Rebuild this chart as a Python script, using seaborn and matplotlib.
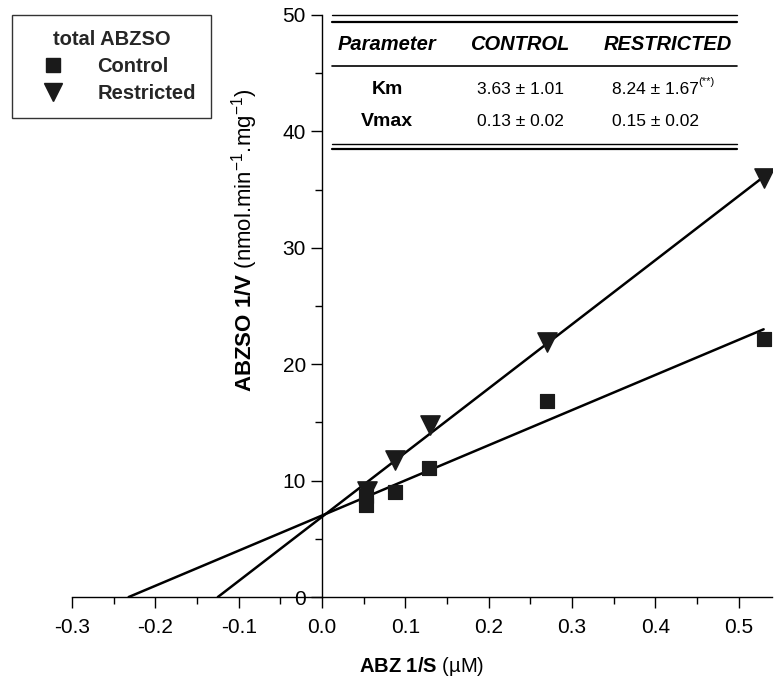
import numpy as np
import pandas as pd
import matplotlib
matplotlib.use("Agg")
import matplotlib.pyplot as plt
import seaborn as sns
from matplotlib.lines import Line2D
from matplotlib.ticker import MultipleLocator

# Data
control_x = [0.053, 0.053, 0.088, 0.128, 0.270, 0.530]
control_y = [7.9, 8.7, 9.0, 11.1, 16.8, 22.2]
restricted_x = [0.054, 0.088, 0.130, 0.270, 0.530]
restricted_y = [9.1, 11.8, 14.8, 21.9, 36.0]

# regression lines (x-intercept to last point)
control_fit_x = [-0.232, 0.530]
control_fit_y = [0.0, 23.0]
restricted_fit_x = [-0.125, 0.530]
restricted_fit_y = [0.0, 36.1]

table_header = ["Parameter", "CONTROL", "RESTRICTED"]
table_rows = [["Km", "3.63 \u00b1 1.01", "8.24 \u00b1 1.67"],
              ["Vmax", "0.13 \u00b1 0.02", "0.15 \u00b1 0.02"]]

sns.set_theme(style="white")
plt.rcParams['font.family'] = ['Liberation Sans', 'DejaVu Sans']
plt.rcParams['axes.unicode_minus'] = False
plt.rcParams['mathtext.fontset'] = 'custom'
plt.rcParams['mathtext.rm'] = 'Liberation Sans'
plt.rcParams['mathtext.bf'] = 'Liberation Sans:bold'
plt.rcParams['mathtext.it'] = 'Liberation Sans:italic'

df_c = pd.DataFrame({"x": control_x, "y": control_y})
df_r = pd.DataFrame({"x": restricted_x, "y": restricted_y})

fig = plt.figure(figsize=(7.76, 6.8), dpi=100)
ax = fig.add_axes([0.0928, 0.122, 0.902, 0.856])

sns.lineplot(x=control_fit_x, y=control_fit_y, ax=ax, color="black", lw=1.8)
sns.lineplot(x=restricted_fit_x, y=restricted_fit_y, ax=ax, color="black", lw=1.8)
sns.scatterplot(data=df_c, x="x", y="y", ax=ax, marker="s", s=110, color="#1a1a1a",
                edgecolor="#1a1a1a", zorder=3)
sns.scatterplot(data=df_r, x="x", y="y", ax=ax, marker="v", s=190, color="#1a1a1a",
                edgecolor="#1a1a1a", zorder=3)

ax.set_xlim(-0.3, 0.54)
ax.set_ylim(0, 50)
ax.spines['left'].set_position(('data', 0))
ax.spines['right'].set_visible(False)
ax.spines['top'].set_visible(False)
for s in ['left', 'bottom']:
    ax.spines[s].set_color('black')
    ax.spines[s].set_linewidth(1.0)

ax.set_xticks(np.arange(-0.3, 0.51, 0.1))
ax.set_xticklabels(["-0.3", "-0.2", "-0.1", "0.0", "0.1", "0.2", "0.3", "0.4", "0.5"])
ax.xaxis.set_minor_locator(MultipleLocator(0.05))
ax.yaxis.set_major_locator(MultipleLocator(10))
ax.yaxis.set_minor_locator(MultipleLocator(5))
ax.tick_params(axis='both', which='major', direction='out', length=8, width=1,
               color='black', labelsize=15, labelcolor='black', bottom=True, left=True)
ax.tick_params(axis='both', which='minor', direction='out', length=5, width=1,
               color='black', bottom=True, left=True)
ax.tick_params(axis='x', pad=7)

ax.set_xlabel("$\\bf{ABZ\\ 1/S}$ (\u00b5M)", fontsize=14.5, color='black')
ax.set_ylabel(r"$\bf{ABZSO\ 1/V}$ (nmol.min$^{-1}$.mg$^{-1}$)", fontsize=16,
              color='black')
ax.yaxis.set_label_coords(0.268, 0.613)
ax.xaxis.set_label_coords(0.5, -0.1)

# legend
handles = [Line2D([], [], marker='s', ls='', color='#1a1a1a', markersize=10),
           Line2D([], [], marker='v', ls='', color='#1a1a1a', markersize=13)]
leg = fig.legend(handles, ["Control", "Restricted"], title="total ABZSO",
                 loc='upper left', bbox_to_anchor=(0.0155, 0.978), borderaxespad=0,
                 frameon=True, fancybox=False, edgecolor='black',
                 prop={'weight': 'bold', 'size': 14.5},
                 title_fontproperties={'weight': 'bold', 'size': 14.5},
                 handletextpad=0.9, borderpad=0.75, labelspacing=0.4,
                 handlelength=2.6)
leg.get_frame().set_linewidth(1.0)

# parameter table
x0, x1 = 0.428, 0.95
for yy, lw in [(0.978, 1.0), (0.968, 1.6), (0.903, 1.2), (0.788, 1.0), (0.781, 1.6)]:
    fig.add_artist(Line2D([x0, x1], [yy, yy], color='black', lw=lw))
col_x = [0.499, 0.670, 0.860]
for cx, h in zip(col_x, table_header):
    fig.text(cx, 0.934, h, ha='center', va='center', fontsize=14.5,
             fontweight='bold', fontstyle='italic', color='black')
row_y = [0.868, 0.821]
for ry, row in zip(row_y, table_rows):
    fig.text(0.499, ry, row[0], ha='center', va='center', fontsize=14,
             fontweight='bold', color='black')
    fig.text(0.615, ry, row[1], ha='left', va='center', fontsize=12.5, color='black')
    fig.text(0.789, ry, row[2], ha='left', va='center', fontsize=12.5, color='black')
fig.text(0.900, 0.880, "(**)", ha='left', va='center', fontsize=8, color='black')

fig.savefig("out.png", dpi=100)
